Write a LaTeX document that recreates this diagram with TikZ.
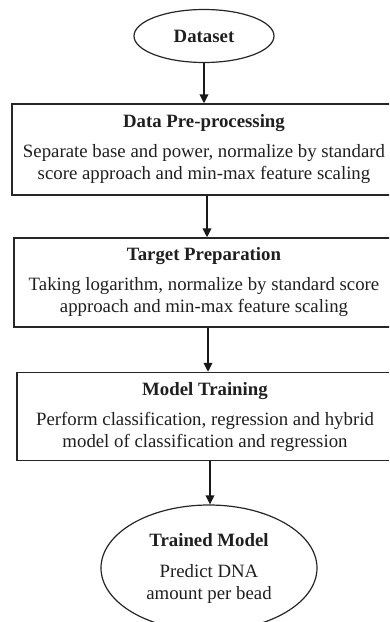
\documentclass[tikz,border=0pt]{standalone}
\usepackage{fontspec}
\setmainfont{Liberation Serif}
\usetikzlibrary{shapes.geometric,arrows.meta}
\begin{document}
\begin{tikzpicture}[x=1pt,y=-1pt,
  every node/.style={font=\fontsize{18.8}{22}\selectfont, text=black!88},
  ell/.style={draw=black!85, ellipse, line width=1.2pt, inner sep=0pt, align=center},
  procbox/.style={draw=black!85, rectangle, line width=1.3pt, inner sep=0pt, align=center},
  arr/.style={draw=black!90, line width=1.9pt, -{Triangle[length=9pt,width=8.5pt]}}
]
\useasboundingbox (0,0) rectangle (389,622);
\clip (0,0) rectangle (389,622);
\node[ell, minimum width=140pt, minimum height=53pt] (dataset) at (204,36) {\textbf{Dataset}};
\node[procbox, minimum width=384pt, minimum height=91pt] (pre) at (204,149.5)
  {\textbf{Data Pre-processing}\\[8pt]Separate base and power, normalize by standard\\score approach and min-max feature scaling};
\node[procbox, minimum width=380pt, minimum height=89pt] (prep) at (204,282.5)
  {\textbf{Target Preparation}\\[8pt]Taking logarithm, normalize by standard score\\approach and min-max feature scaling};
\node[procbox, minimum width=376pt, minimum height=88pt] (train) at (205,416.5)
  {\textbf{Model Training}\\[8pt]Perform classification, regression and hybrid\\model of classification and regression};
\node[ell, minimum width=216pt, minimum height=126pt] (model) at (209,568)
  {\textbf{Trained Model}\\[9pt]Predict DNA\\amount per bead};
\draw[arr] (dataset.south) -- (dataset.south |- pre.north);
\draw[arr] ([xshift=3pt]pre.south) -- ([xshift=3pt]pre.south |- prep.north);
\draw[arr] ([xshift=4pt]prep.south) -- ([xshift=4pt]prep.south |- train.north);
\draw[arr] ([xshift=5pt]train.south) -- ([xshift=5pt]train.south |- model.north);
\end{tikzpicture}
\end{document}
